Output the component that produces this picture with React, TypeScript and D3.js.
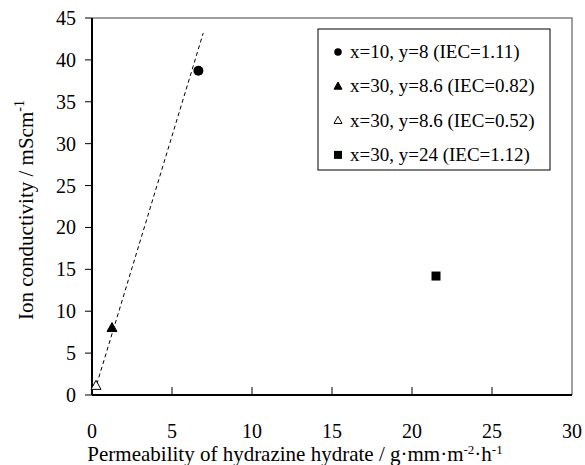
import React, { useRef, useEffect } from 'react';
import * as d3 from 'd3';

// data
const seriesNames = [
  'x=10, y=8 (IEC=1.11)',
  'x=30, y=8.6 (IEC=0.82)',
  'x=30, y=8.6 (IEC=0.52)',
  'x=30, y=24 (IEC=1.12)',
];
const permeability = [6.65, 1.25, 0.25, 21.5];
const conductivity = [38.7, 8.0, 1.1, 14.2];
const markerKinds = ['circle', 'triangle', 'triangleOpen', 'square'];
const trendLine: [number, number][] = [[0.3, 1.3], [6.95, 43.2]];
const xTicks = [0, 5, 10, 15, 20, 25, 30];
const yTicks = [0, 5, 10, 15, 20, 25, 30, 35, 40, 45];

const W = 585;
const H = 465;
const margin = { left: 92, top: 18, right: 13, bottom: 70 };
const font = 'Liberation Serif';

const drawMarker = (g, kind, cx, cy, s) => {
  if (kind === 'circle') {
    g.append('circle').attr('cx', cx).attr('cy', cy).attr('r', s * 0.5).attr('fill', '#000');
  } else if (kind === 'square') {
    g.append('rect').attr('x', cx - s / 2).attr('y', cy - s / 2).attr('width', s).attr('height', s).attr('fill', '#000');
  } else {
    const h = s * 0.9;
    const pts = [[cx, cy - h * 0.6], [cx + s / 2, cy + h * 0.4], [cx - s / 2, cy + h * 0.4]];
    g.append('polygon')
      .attr('points', pts.map(p => p.join(',')).join(' '))
      .attr('fill', kind === 'triangle' ? '#000' : '#fff')
      .attr('stroke', '#000')
      .attr('stroke-width', 1);
  }
};

const App = () => {
  const svgRef = useRef(null);

  useEffect(() => {
    const svg = d3.select(svgRef.current);
    svg.selectAll('*').remove();

    const x = d3.scaleLinear().domain([0, 30]).range([margin.left, W - margin.right]);
    const y = d3.scaleLinear().domain([0, 45]).range([H - margin.bottom, margin.top]);

    // grey frame top/right
    svg.append('path')
      .attr('d', `M${x(0)},${y(45)}H${x(30)}V${y(0)}`)
      .attr('fill', 'none')
      .attr('stroke', '#808080')
      .attr('stroke-width', 1.5);

    // x axis, ticks inward, labels well below
    const xg = svg.append('g');
    xg.append('line').attr('x1', x(0)).attr('x2', x(30)).attr('y1', y(0)).attr('y2', y(0))
      .attr('stroke', '#000').attr('stroke-width', 2);
    xTicks.forEach(t => {
      if (t > 0 && t < 30) {
        xg.append('line').attr('x1', x(t)).attr('x2', x(t)).attr('y1', y(0)).attr('y2', y(0) - 8)
          .attr('stroke', '#000').attr('stroke-width', 1);
      }
      xg.append('text').attr('x', x(t)).attr('y', y(0) + 43).attr('text-anchor', 'middle')
        .style('font-family', font).attr('font-size', 20).text(t);
    });

    // y axis, ticks outward
    const yg = svg.append('g');
    yg.append('line').attr('x1', x(0)).attr('x2', x(0)).attr('y1', y(0)).attr('y2', y(45))
      .attr('stroke', '#000').attr('stroke-width', 2);
    yTicks.forEach(t => {
      yg.append('line').attr('x1', x(0) - 7).attr('x2', x(0)).attr('y1', y(t)).attr('y2', y(t))
        .attr('stroke', '#000').attr('stroke-width', 1);
      yg.append('text').attr('x', x(0) - 16).attr('y', y(t) + 7).attr('text-anchor', 'end')
        .style('font-family', font).attr('font-size', 20).text(t);
    });

    // axis titles
    const xt = svg.append('text').attr('x', 295).attr('y', 461).attr('text-anchor', 'middle')
      .style('font-family', font).attr('font-size', 21);
    xt.append('tspan').text('Permeability of hydrazine hydrate / g·mm·m');
    xt.append('tspan').attr('dy', -7).attr('font-size', 13).text('-2');
    xt.append('tspan').attr('dy', 7).text('·h');
    xt.append('tspan').attr('dy', -7).attr('font-size', 13).text('-1');

    const yt = svg.append('text').attr('transform', `translate(33, 210) rotate(-90)`)
      .attr('text-anchor', 'middle').style('font-family', font).attr('font-size', 21);
    yt.append('tspan').text('Ion conductivity / mScm');
    yt.append('tspan').attr('dy', -9).attr('font-size', 14).text('-1');

    // trend line
    svg.append('path')
      .datum(trendLine)
      .attr('d', d3.line().x(d => x(d[0])).y(d => y(d[1])))
      .attr('fill', 'none')
      .attr('stroke', '#000')
      .attr('stroke-width', 1)
      .attr('stroke-dasharray', '4,3');

    // points
    const pg = svg.append('g');
    seriesNames.forEach((_, i) => {
      drawMarker(pg, markerKinds[i], x(permeability[i]), y(conductivity[i]), markerKinds[i] === 'square' ? 9 : 10);
    });

    // legend
    const lg = svg.append('g');
    lg.append('rect').attr('x', 318).attr('y', 29).attr('width', 232).attr('height', 141)
      .attr('fill', '#fff').attr('stroke', '#000').attr('stroke-width', 1);
    seriesNames.forEach((name, i) => {
      const cy = 52 + i * 34.3;
      drawMarker(lg, markerKinds[i], 338, cy, markerKinds[i] === 'circle' ? 7.5 : 8);
      lg.append('text').attr('x', 350).attr('y', cy + 6).style('font-family', font)
        .attr('font-size', 19).text(name);
    });
  }, []);

  return <svg ref={svgRef} width={W} height={H} style={{ display: 'block', position: 'absolute', left: 0, top: 0, background: '#fff' }} />;
};

export default App;
